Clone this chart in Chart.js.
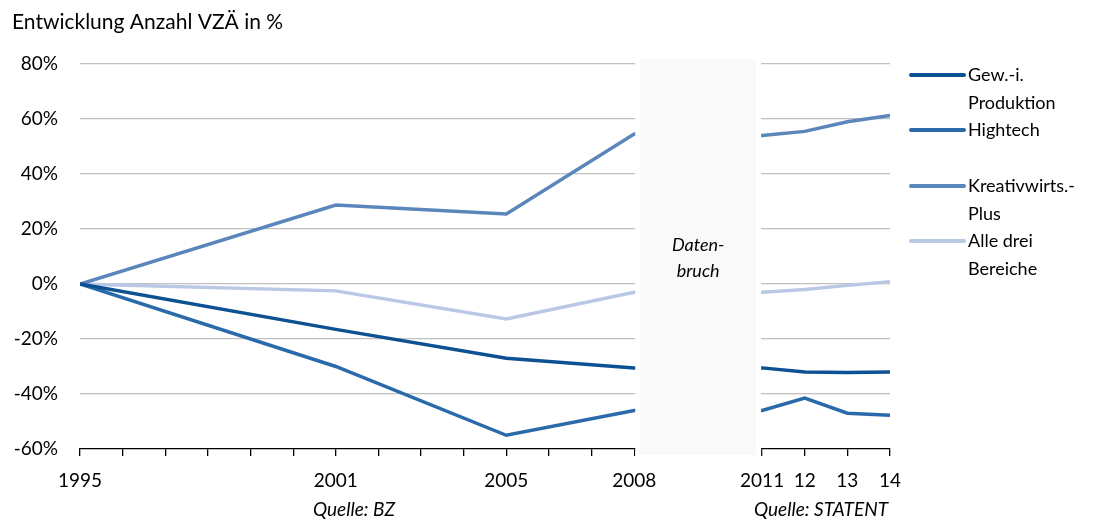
<!DOCTYPE html>
<html>
<head>
<meta charset="utf-8">
<script src="https://cdn.jsdelivr.net/npm/chart.js@4/dist/chart.umd.min.js"></script>
<style>
    html, body { margin: 0; padding: 0; background: #ffffff; }
    #wrap { position: relative; width: 1102px; height: 522px; }
</style>
</head>
<body>
<div id="wrap"><canvas id="vzaeChart" width="1102" height="522"></canvas></div>
<script>
// Data
const years = [1995, 2001, 2005, 2008, 2011, 2012, 2013, 2014];
const gewProduktion = [0, -16.5, -27, -30.5, -30.5, -32, -32.2, -32];
const hightech = [0, -30, -55, -46, -46, -41.5, -47, -47.7];
const kreativPlus = [0, 28.7, 25.5, 54.5, 54, 55.5, 59, 61.3];
const alleDrei = [0, -2.5, -12.7, -3, -3, -2, -0.5, 0.8];

const seriesNames = [['Gew.-i.', 'Produktion'], ['Hightech'], ['Kreativwirts.-', 'Plus'], ['Alle drei', 'Bereiche']];
const seriesColors = ['#0d5192', '#2b6aaa', '#5b86bb', '#bac8e6'];
const seriesValues = [gewProduktion, hightech, kreativPlus, alleDrei];

// Tick labels on the x axis
const xTickLabels = {1995: '1995', 2001: '2001', 2005: '2005', 2008: '2008', 2011: '2011', 2012: '12', 2013: '13', 2014: '14'};
const breakFrom = 2008;
const breakTo = 2011;

const FONT = 'Lato, "Open Sans", sans-serif';

// Build the datasets
let datasets = [];
for (let i = 0; i < seriesValues.length; i++) {
    let points = [];
    for (let j = 0; j < years.length; j++) {
        points.push({x: years[j], y: seriesValues[i][j]});
    }
    datasets.push({
        label: seriesNames[i].join(' '),
        legendLines: seriesNames[i],
        data: points,
        borderColor: seriesColors[i],
        backgroundColor: seriesColors[i],
        borderWidth: 3.5,
        pointRadius: 0,
        tension: 0
    });
}

// Plugin: data break box, legend and source notes
const extrasPlugin = {
    id: 'extras',
    afterDatasetsDraw(chart) {
        const ctx = chart.ctx;
        const xs = chart.scales.x;
        const area = chart.chartArea;
        const x0 = xs.getPixelForValue(breakFrom);
        const x1 = xs.getPixelForValue(breakTo);

        ctx.save();
        // white gap over grid and axis
        ctx.fillStyle = '#ffffff';
        ctx.fillRect(x0 + 1, area.top - 6, x1 - x0 - 2, area.bottom - area.top + 14);
        // grey box
        ctx.fillStyle = '#f9f9f9';
        ctx.fillRect(x0 + 6, area.top - 5, x1 - x0 - 12, area.bottom - area.top + 11);

        ctx.fillStyle = '#000000';
        ctx.font = 'italic 18px ' + FONT;
        ctx.textAlign = 'center';
        ctx.textBaseline = 'middle';
        ctx.fillText('Daten-', (x0 + x1) / 2, 245);
        ctx.fillText('bruch', (x0 + x1) / 2, 271);

        // source notes
        ctx.font = 'italic 19px ' + FONT;
        ctx.textAlign = 'right';
        ctx.fillText('Quelle: BZ', 395, 510);
        ctx.fillText('Quelle: STATENT', 888, 510);

        // title
        ctx.font = '21px ' + FONT;
        ctx.textAlign = 'left';
        ctx.fillText('Entwicklung Anzahl VZÄ in %', 12, 22);

        // legend
        const legendTop = [75, 130, 186, 241];
        ctx.font = '18px ' + FONT;
        chart.data.datasets.forEach((ds, i) => {
            let y = legendTop[i];
            ctx.strokeStyle = ds.borderColor;
            ctx.lineWidth = 4;
            ctx.lineCap = 'round';
            ctx.beginPath();
            ctx.moveTo(911, y);
            ctx.lineTo(964, y);
            ctx.stroke();
            ctx.fillStyle = '#000000';
            ds.legendLines.forEach((txt, k) => {
                ctx.fillText(txt, 968, y + k * 28.5);
            });
        });
        ctx.restore();
    }
};

const ctx = document.getElementById('vzaeChart').getContext('2d');

const vzaeChart = new Chart(ctx, {
    type: 'line',
    data: { datasets: datasets },
    plugins: [extrasPlugin],
    options: {
        responsive: false,
        animation: false,
        layout: {
            padding: {top: 64, right: 212, bottom: 0, left: 0}
        },
        plugins: {
            legend: { display: false },
            tooltip: { enabled: false }
        },
        scales: {
            x: {
                type: 'linear',
                min: 1995,
                max: 2014,
                afterFit: (scale) => { scale.height = 73; },
                afterBuildTicks: (scale) => {
                    let t = [];
                    for (let v = 1995; v <= 2014; v++) t.push({value: v});
                    scale.ticks = t;
                },
                grid: {
                    drawOnChartArea: false,
                    drawTicks: true,
                    tickLength: 7,
                    color: '#000000',
                    lineWidth: 1.3
                },
                border: { color: '#000000', width: 1.3 },
                ticks: {
                    autoSkip: false,
                    maxRotation: 0,
                    padding: 13,
                    color: '#000000',
                    font: { family: FONT, size: 19 },
                    callback: (value) => xTickLabels[value] || ''
                }
            },
            y: {
                min: -60,
                max: 80,
                afterFit: (scale) => { scale.width = 80; },
                grid: {
                    color: (c) => c.tick.value === -60 ? 'rgba(0,0,0,0)' : '#c0c0c0',
                    lineWidth: 1.3,
                    drawTicks: false
                },
                border: { display: false },
                ticks: {
                    stepSize: 20,
                    padding: 22,
                    color: '#000000',
                    font: { family: FONT, size: 19 },
                    callback: (value) => value + '%'
                }
            }
        }
    }
});
</script>
</body>
</html>
